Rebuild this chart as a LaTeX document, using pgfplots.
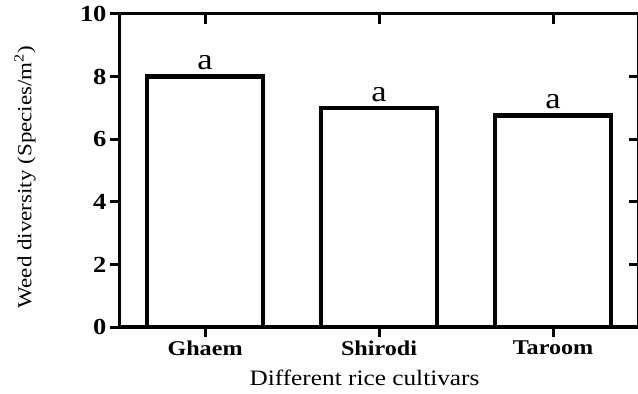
\documentclass[border=0pt]{standalone}
\usepackage{fontspec}
\setmainfont{Liberation Serif}[FakeStretch=1.15]
\usepackage{pgfplots}
\pgfplotsset{compat=1.18}
\begin{document}
\begin{tikzpicture}
\pgfplotsset{
  frame/.style={
    at={(0,0)}, anchor=south west,
    scale only axis, width=519pt, height=313pt,
    xmin=0.511, xmax=3.494, ymin=0, ymax=10,
    major tick length=10pt,
    tick style={line width=3pt, black},
    axis line style={line width=3pt, line cap=rect},
  },
}
% ticks on top and right point inward
\begin{axis}[frame,
  xtick={1,2,3}, ytick={2,4,6,8},
  xtick pos=top, ytick pos=right, tick align=inside,
  xticklabels={}, yticklabels={},
]
\addplot[draw=none] coordinates {(1,0)};
\end{axis}
\begin{axis}[frame,
  ybar, bar width=116pt,
  xtick={1,2,3}, xticklabels={Ghaem,Shirodi,Taroom},
  ytick={0,2,...,10},
  xtick pos=bottom, ytick pos=left, tick align=outside,
  /pgf/number format/assume math mode=true,
  xticklabel style={font=\fontsize{21}{25}\selectfont\bfseries},
  yticklabel style={font=\fontsize{23}{27}\selectfont\bfseries},
  xlabel={Different rice cultivars},
  xlabel style={font=\fontsize{22}{26}\selectfont, xshift=-15pt, yshift=-8pt},
  ylabel={Weed diversity (Species/m\textsuperscript{2})},
  ylabel style={at={(axis description cs:-0.183,0.479)}, anchor=center,
    font=\fontsize{20}{24}\selectfont},
  nodes near coords={a},
  every node near coord/.append style={font=\fontsize{30}{32}\selectfont, yshift=1pt},
]
\addplot[draw=black, fill=white, line width=4.5pt] coordinates {(1,8) (2,7) (3,6.75)};
\end{axis}
\pgfresetboundingbox
\path[use as bounding box] (-120pt,-67pt) rectangle (518pt,327pt);
\end{tikzpicture}
\end{document}
